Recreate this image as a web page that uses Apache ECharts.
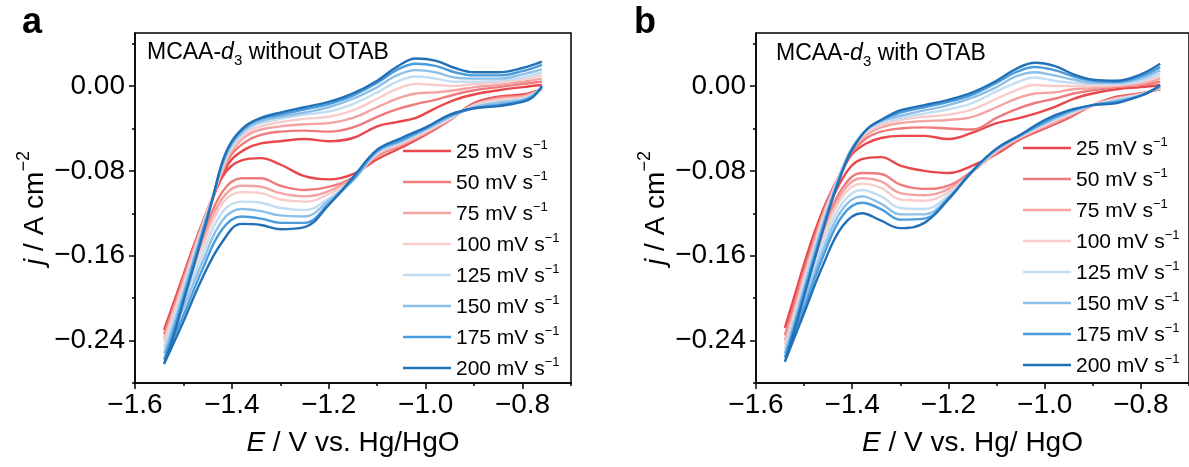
<!DOCTYPE html>
<html><head><meta charset="utf-8">
<script src="https://cdn.jsdelivr.net/npm/echarts@6/dist/echarts.min.js"></script>
<style>html,body{margin:0;padding:0;background:#fff}#c{width:1189px;height:467px}</style>
</head><body><div id="c"></div>
<script>
const FONT = "'Liberation Sans', Arial, sans-serif";
const RATES = ['25', '50', '75', '100', '125', '150', '175', '200'];
const COLORS = ['#e8474b', '#ef7b7c', '#f4a3a3', '#f9cccc', '#c3ddf2', '#8cc0e8', '#4a9cdc', '#2270b5'];

const X_MAJOR = [-1.6, -1.4, -1.2, -1.0, -0.8];
const X_MINOR = [-1.5, -1.3, -1.1, -0.9, -0.7];
const Y_MAJOR = [-0.24, -0.16, -0.08, 0];
const Y_MINOR = [-0.28, -0.20, -0.12, -0.04, 0.04];

// potential grids (V vs Hg/HgO)
const E_LOW = [-0.76, -0.78, -0.80, -0.85, -0.90, -0.95, -1.00, -1.05, -1.10, -1.15, -1.20, -1.25, -1.30, -1.34, -1.38, -1.42, -1.46, -1.50, -1.54];
const E_UP = [-1.54, -1.52, -1.50, -1.48, -1.46, -1.44, -1.42, -1.40, -1.37, -1.34, -1.30, -1.25, -1.20, -1.15, -1.10, -1.06, -1.02, -0.98, -0.94, -0.90, -0.85, -0.80, -0.76];

// panel a: without OTAB, cathodic (lower) branch
const aLow25  = [-0.003, -0.006, -0.008, -0.010, -0.016, -0.032, -0.046, -0.058, -0.069, -0.083, -0.088, -0.085, -0.074, -0.068, -0.070, -0.086, -0.135, -0.185, -0.230];
const aLow50  = [-0.003, -0.007, -0.009, -0.011, -0.017, -0.032, -0.045, -0.056, -0.066, -0.086, -0.095, -0.098, -0.094, -0.087, -0.087, -0.100, -0.141, -0.189, -0.234];
const aLow75  = [-0.003, -0.007, -0.010, -0.012, -0.018, -0.031, -0.044, -0.055, -0.065, -0.087, -0.099, -0.104, -0.101, -0.095, -0.094, -0.106, -0.146, -0.193, -0.238];
const aLow100 = [-0.002, -0.008, -0.011, -0.013, -0.018, -0.031, -0.043, -0.054, -0.064, -0.088, -0.102, -0.109, -0.107, -0.101, -0.100, -0.111, -0.151, -0.197, -0.241];
const aLow125 = [-0.002, -0.008, -0.012, -0.015, -0.019, -0.030, -0.042, -0.053, -0.063, -0.089, -0.106, -0.117, -0.115, -0.110, -0.109, -0.119, -0.158, -0.203, -0.246];
const aLow150 = [-0.001, -0.009, -0.013, -0.016, -0.020, -0.029, -0.041, -0.052, -0.062, -0.089, -0.108, -0.123, -0.122, -0.118, -0.116, -0.127, -0.165, -0.209, -0.252];
const aLow175 = [-0.001, -0.010, -0.014, -0.018, -0.021, -0.028, -0.040, -0.051, -0.061, -0.088, -0.111, -0.129, -0.129, -0.125, -0.123, -0.135, -0.172, -0.216, -0.258];
const aLow200 = [0.000, -0.011, -0.015, -0.019, -0.021, -0.027, -0.039, -0.049, -0.060, -0.086, -0.112, -0.133, -0.135, -0.131, -0.130, -0.147, -0.180, -0.222, -0.262];
// panel a: anodic (upper) branch
const aUp25  = [-0.230, -0.204, -0.178, -0.152, -0.128, -0.105, -0.084, -0.069, -0.059, -0.054, -0.052, -0.050, -0.052, -0.049, -0.038, -0.034, -0.030, -0.021, -0.013, -0.008, -0.004, -0.001, 0.001];
const aUp50  = [-0.234, -0.208, -0.181, -0.154, -0.129, -0.105, -0.082, -0.064, -0.052, -0.046, -0.043, -0.042, -0.043, -0.039, -0.029, -0.022, -0.017, -0.013, -0.008, -0.004, -0.001, 0.002, 0.004];
const aUp75  = [-0.238, -0.211, -0.184, -0.156, -0.130, -0.105, -0.080, -0.061, -0.047, -0.041, -0.038, -0.036, -0.035, -0.030, -0.020, -0.012, -0.007, -0.006, -0.004, -0.001, 0.001, 0.004, 0.007];
const aUp100 = [-0.241, -0.214, -0.187, -0.159, -0.131, -0.105, -0.078, -0.059, -0.044, -0.038, -0.034, -0.031, -0.029, -0.023, -0.012, -0.003, 0.002, 0.001, 0.000, 0.002, 0.003, 0.006, 0.010];
const aUp125 = [-0.246, -0.219, -0.191, -0.162, -0.133, -0.105, -0.076, -0.057, -0.042, -0.035, -0.031, -0.027, -0.024, -0.017, -0.006, 0.004, 0.009, 0.007, 0.004, 0.004, 0.005, 0.008, 0.013];
const aUp150 = [-0.252, -0.225, -0.195, -0.165, -0.135, -0.106, -0.075, -0.055, -0.040, -0.033, -0.029, -0.025, -0.020, -0.012, -0.001, 0.010, 0.015, 0.013, 0.008, 0.007, 0.007, 0.011, 0.016];
const aUp175 = [-0.258, -0.230, -0.199, -0.168, -0.137, -0.106, -0.073, -0.053, -0.038, -0.031, -0.027, -0.022, -0.017, -0.009, 0.003, 0.015, 0.021, 0.019, 0.013, 0.010, 0.010, 0.014, 0.020];
const aUp200 = [-0.262, -0.235, -0.203, -0.172, -0.140, -0.107, -0.072, -0.052, -0.037, -0.030, -0.025, -0.020, -0.015, -0.007, 0.005, 0.018, 0.026, 0.024, 0.017, 0.013, 0.013, 0.017, 0.023];

// panel b: with OTAB, cathodic (lower) branch
const bLow25  = [-0.003, -0.005, -0.007, -0.010, -0.018, -0.030, -0.040, -0.050, -0.064, -0.075, -0.082, -0.080, -0.075, -0.067, -0.069, -0.087, -0.128, -0.178, -0.228];
const bLow50  = [-0.003, -0.005, -0.007, -0.011, -0.018, -0.029, -0.039, -0.049, -0.063, -0.080, -0.094, -0.097, -0.093, -0.083, -0.082, -0.096, -0.134, -0.184, -0.235];
const bLow75  = [-0.002, -0.005, -0.008, -0.012, -0.018, -0.028, -0.038, -0.048, -0.062, -0.081, -0.097, -0.103, -0.101, -0.090, -0.087, -0.100, -0.138, -0.189, -0.240];
const bLow100 = [-0.002, -0.005, -0.008, -0.012, -0.018, -0.027, -0.037, -0.048, -0.061, -0.081, -0.100, -0.108, -0.107, -0.096, -0.092, -0.104, -0.142, -0.194, -0.244];
const bLow125 = [-0.001, -0.005, -0.008, -0.013, -0.018, -0.026, -0.036, -0.047, -0.060, -0.081, -0.103, -0.116, -0.115, -0.104, -0.098, -0.110, -0.148, -0.199, -0.248];
const bLow150 = [-0.001, -0.005, -0.009, -0.014, -0.018, -0.025, -0.035, -0.047, -0.060, -0.081, -0.105, -0.121, -0.121, -0.111, -0.104, -0.116, -0.154, -0.204, -0.252];
const bLow175 = [0.000, -0.005, -0.009, -0.015, -0.018, -0.024, -0.034, -0.046, -0.059, -0.080, -0.106, -0.125, -0.126, -0.116, -0.110, -0.122, -0.160, -0.209, -0.256];
const bLow200 = [0.001, -0.005, -0.009, -0.016, -0.018, -0.023, -0.032, -0.046, -0.059, -0.080, -0.107, -0.129, -0.134, -0.127, -0.120, -0.132, -0.168, -0.214, -0.260];
// panel b: anodic (upper) branch
const bUp25  = [-0.228, -0.198, -0.168, -0.140, -0.116, -0.096, -0.079, -0.064, -0.054, -0.049, -0.047, -0.047, -0.050, -0.044, -0.035, -0.031, -0.026, -0.020, -0.012, -0.007, -0.003, -0.001, 0.001];
const bUp50  = [-0.235, -0.205, -0.174, -0.145, -0.119, -0.097, -0.078, -0.062, -0.049, -0.043, -0.040, -0.039, -0.040, -0.041, -0.030, -0.022, -0.016, -0.012, -0.007, -0.004, -0.001, 0.001, 0.004];
const bUp75  = [-0.240, -0.210, -0.178, -0.149, -0.121, -0.098, -0.077, -0.060, -0.046, -0.039, -0.035, -0.033, -0.032, -0.029, -0.020, -0.012, -0.007, -0.006, -0.003, -0.002, 0.000, 0.002, 0.007];
const bUp100 = [-0.244, -0.214, -0.182, -0.152, -0.123, -0.099, -0.077, -0.059, -0.044, -0.037, -0.032, -0.029, -0.027, -0.022, -0.012, -0.004, 0.001, 0.000, 0.000, 0.000, 0.001, 0.004, 0.009];
const bUp125 = [-0.248, -0.218, -0.186, -0.155, -0.126, -0.100, -0.077, -0.058, -0.042, -0.035, -0.030, -0.026, -0.022, -0.016, -0.005, 0.003, 0.008, 0.005, 0.003, 0.002, 0.002, 0.005, 0.012];
const bUp150 = [-0.252, -0.222, -0.190, -0.159, -0.129, -0.102, -0.078, -0.058, -0.041, -0.033, -0.028, -0.023, -0.018, -0.011, -0.001, 0.009, 0.013, 0.010, 0.006, 0.003, 0.003, 0.007, 0.015];
const bUp175 = [-0.256, -0.226, -0.194, -0.163, -0.132, -0.104, -0.079, -0.059, -0.041, -0.032, -0.025, -0.020, -0.015, -0.008, 0.003, 0.013, 0.018, 0.015, 0.009, 0.005, 0.004, 0.009, 0.018];
const bUp200 = [-0.260, -0.230, -0.198, -0.166, -0.135, -0.105, -0.080, -0.060, -0.041, -0.032, -0.023, -0.018, -0.013, -0.006, 0.005, 0.016, 0.022, 0.019, 0.011, 0.006, 0.005, 0.011, 0.021];

const A_LOW = [aLow25, aLow50, aLow75, aLow100, aLow125, aLow150, aLow175, aLow200];
const A_UP = [aUp25, aUp50, aUp75, aUp100, aUp125, aUp150, aUp175, aUp200];
const B_LOW = [bLow25, bLow50, bLow75, bLow100, bLow125, bLow150, bLow175, bLow200];
const B_UP = [bUp25, bUp50, bUp75, bUp100, bUp125, bUp150, bUp175, bUp200];

function loop(low, up) {
  const pts = E_LOW.map((e, i) => [e, low[i]]);
  for (let i = 1; i < E_UP.length; i++) pts.push([E_UP[i], up[i]]);
  return pts;
}

const fmtX = v => (v < 0 ? '\u2212' : '') + Math.abs(v).toFixed(1);
const fmtY = v => (v < -1e-9 ? '\u2212' : '') + Math.abs(v).toFixed(2);

const axisLineStyle = { color: '#000', width: 1.5 };
const nameRich = {
  i: { fontFamily: FONT, fontSize: 28, fontStyle: 'italic', color: '#000', lineHeight: 34, verticalAlign: 'bottom' },
  n: { fontFamily: FONT, fontSize: 28, color: '#000', lineHeight: 34, verticalAlign: 'bottom' },
  s: { fontFamily: FONT, fontSize: 18, color: '#000', lineHeight: 18, verticalAlign: 'top' }
};

function xAxes(grid, title) {
  return [
    {
      gridIndex: grid, type: 'value', min: -1.6, max: -0.7,
      axisLine: { show: true, onZero: false, lineStyle: axisLineStyle },
      axisTick: { show: true, length: 6, customValues: X_MAJOR, lineStyle: axisLineStyle },
      axisLabel: { customValues: X_MAJOR, formatter: fmtX, fontSize: 28, fontFamily: FONT, color: '#000', margin: 8 },
      splitLine: { show: false },
      name: title, nameLocation: 'middle', nameGap: 40,
      nameTextStyle: { rich: nameRich }
    },
    {
      gridIndex: grid, type: 'value', min: -1.6, max: -0.7, position: 'bottom',
      axisLine: { show: false, onZero: false },
      axisTick: { show: true, length: 3, customValues: X_MINOR, lineStyle: axisLineStyle },
      axisLabel: { show: false }, splitLine: { show: false }
    }
  ];
}
function yAxes(grid) {
  return [
    {
      gridIndex: grid, type: 'value', min: -0.28, max: 0.05,
      axisLine: { show: true, onZero: false, lineStyle: axisLineStyle },
      axisTick: { show: true, length: 6, customValues: Y_MAJOR, lineStyle: axisLineStyle },
      axisLabel: { customValues: Y_MAJOR, formatter: fmtY, fontSize: 28, fontFamily: FONT, color: '#000', margin: 10 },
      splitLine: { show: false },
      name: '{i|j}{n| / A cm}{s|\u22122}', nameLocation: 'middle', nameGap: 86,
      nameTextStyle: { rich: nameRich }
    },
    {
      gridIndex: grid, type: 'value', min: -0.28, max: 0.05, position: 'left',
      axisLine: { show: false, onZero: false },
      axisTick: { show: true, length: 3, customValues: Y_MINOR, lineStyle: axisLineStyle },
      axisLabel: { show: false }, splitLine: { show: false }
    }
  ];
}

const series = [];
RATES.forEach((r, k) => {
  series.push({
    name: r, type: 'line', xAxisIndex: 0, yAxisIndex: 0, data: loop(A_LOW[k], A_UP[k]),
    smooth: 0.4, symbol: 'none', lineStyle: { color: COLORS[k], width: 2.4 }, itemStyle: { color: COLORS[k] }, z: 2 + k
  });
});
RATES.forEach((r, k) => {
  series.push({
    name: r, type: 'line', xAxisIndex: 2, yAxisIndex: 2, data: loop(B_LOW[k], B_UP[k]),
    smooth: 0.4, symbol: 'none', lineStyle: { color: COLORS[k], width: 2.4 }, itemStyle: { color: COLORS[k] }, z: 2 + k
  });
});

const legendCommon = {
  orient: 'vertical', data: RATES, itemWidth: 48, itemHeight: 2.6, itemGap: 7, padding: 0,
  selectedMode: false, icon: 'rect',
  formatter: n => '{n|' + n + ' mV s}{s|\u22121}',
  textStyle: {
    rich: {
      n: { fontFamily: FONT, fontSize: 21, color: '#000', lineHeight: 24, verticalAlign: 'bottom' },
      s: { fontFamily: FONT, fontSize: 13, color: '#000', lineHeight: 14, verticalAlign: 'top' }
    }
  }
};

const annRich = {
  n: { fontFamily: FONT, fontSize: 23, fill: '#000', lineHeight: 25, verticalAlign: 'top' },
  i: { fontFamily: FONT, fontSize: 23, fontStyle: 'italic', fill: '#000', lineHeight: 25, verticalAlign: 'top' },
  b: { fontFamily: FONT, fontSize: 15, fill: '#000', lineHeight: 15, verticalAlign: 'top', padding: [12, 0, 0, 0] }
};

const chart = echarts.init(document.getElementById('c'), null, { renderer: 'canvas', width: 1189, height: 467 });
chart.setOption({
  animation: false,
  backgroundColor: '#fff',
  grid: [
    { left: 135, top: 33, width: 436, height: 350, show: true, borderColor: '#000', borderWidth: 1.5, backgroundColor: 'transparent' },
    { left: 756, top: 33, width: 436, height: 350, show: true, borderColor: '#000', borderWidth: 1.5, backgroundColor: 'transparent' }
  ],
  xAxis: [...xAxes(0, '{i|E}{n| / V vs. Hg/HgO}'), ...xAxes(1, '{i|E}{n| / V vs. Hg/ HgO}')],
  yAxis: [...yAxes(0), ...yAxes(1)],
  legend: [
    Object.assign({ left: 403, top: 139 }, legendCommon),
    Object.assign({ left: 1023, top: 136 }, legendCommon)
  ],
  graphic: [
    { type: 'text', left: 22, top: 5, style: { text: 'a', fontFamily: FONT, fontSize: 36, fontWeight: 'bold', fill: '#000' } },
    { type: 'text', left: 634, top: 5, style: { text: 'b', fontFamily: FONT, fontSize: 36, fontWeight: 'bold', fill: '#000' } },
    { type: 'text', left: 147, top: 41, style: { text: '{n|MCAA-}{i|d}{b|3}{n| without OTAB}', rich: annRich } },
    { type: 'text', left: 776, top: 42, style: { text: '{n|MCAA-}{i|d}{b|3}{n| with OTAB}', rich: annRich } }
  ],
  series
});
</script>
</body></html>
